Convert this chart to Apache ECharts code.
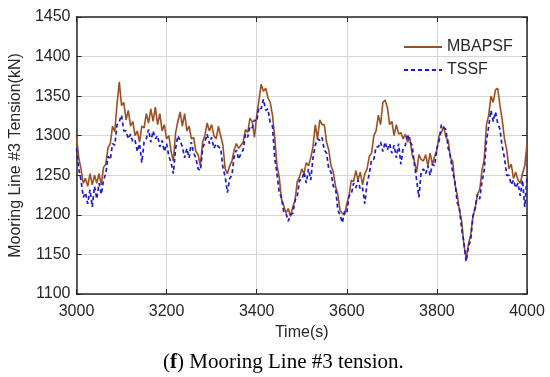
<!DOCTYPE html>
<html>
<head>
<meta charset="utf-8">
<script src="https://cdn.jsdelivr.net/npm/echarts@6/dist/echarts.min.js"></script>
<style>html,body{margin:0;padding:0;background:#fff;}#c{width:550px;height:377px;}</style>
</head>
<body>
<div id="c"></div>
<script>
// Sampling: t = 3000, 3005, ..., 4000 s
const tStart = 3000;
const tStep = 5;
const xTicks = [3000, 3200, 3400, 3600, 3800, 4000];
const yTicks = [1100, 1150, 1200, 1250, 1300, 1350, 1400, 1450];
const seriesNames = ['MBAPSF', 'TSSF'];

const mbapsf = [
1300,1272,1258,1240,1246,1236,1252,1238,1250,1240,
1252,1238,1260,1264,1285,1290,1312,1305,1340,1368,
1338,1342,1320,1332,1312,1318,1300,1306,1292,1312,
1310,1328,1316,1334,1318,1336,1314,1328,1306,1314,
1296,1300,1280,1268,1304,1318,1330,1312,1328,1306,
1312,1296,1298,1280,1276,1262,1292,1300,1316,1306,
1314,1300,1296,1312,1300,1288,1258,1252,1262,1268,
1282,1290,1284,1288,1292,1308,1304,1322,1318,1298,
1325,1345,1365,1356,1360,1348,1342,1326,1298,1262,
1248,1220,1212,1202,1208,1198,1210,1218,1242,1248,
1258,1252,1266,1262,1272,1286,1314,1296,1320,1314,
1314,1292,1282,1262,1254,1236,1226,1206,1202,1200,
1214,1224,1244,1242,1256,1244,1254,1238,1252,1258,
1274,1278,1300,1306,1326,1314,1342,1345,1336,1314,
1318,1300,1314,1302,1304,1296,1302,1292,1298,1276,
1268,1254,1276,1270,1268,1276,1262,1278,1264,1274,
1282,1300,1304,1312,1298,1294,1272,1268,1238,1226,
1206,1192,1162,1145,1163,1175,1198,1208,1226,1232,
1256,1270,1314,1326,1350,1342,1358,1360,1338,1320,
1296,1282,1258,1264,1246,1254,1244,1240,1252,1262,
1290];

const tssf = [
1284,1258,1244,1222,1228,1214,1232,1210,1236,1220,
1240,1226,1244,1252,1274,1270,1290,1288,1314,1318,
1326,1306,1306,1296,1302,1292,1294,1280,1290,1266,
1292,1296,1308,1292,1306,1296,1300,1286,1294,1280,
1290,1274,1266,1252,1284,1300,1294,1286,1272,1284,
1272,1292,1278,1272,1258,1256,1284,1292,1302,1290,
1298,1284,1290,1286,1284,1260,1248,1228,1246,1250,
1274,1282,1270,1278,1282,1302,1298,1312,1310,1320,
1318,1336,1334,1346,1332,1334,1316,1312,1272,1252,
1228,1222,1204,1202,1192,1200,1202,1218,1224,1244,
1244,1254,1240,1258,1244,1272,1288,1296,1294,1298,
1282,1278,1258,1254,1236,1234,1206,1200,1190,1204,
1202,1224,1226,1240,1234,1244,1232,1234,1214,1240,
1252,1270,1270,1286,1286,1292,1280,1292,1282,1290,
1278,1288,1272,1290,1264,1284,1288,1302,1292,1288,
1264,1244,1222,1254,1258,1252,1262,1250,1264,1262,
1284,1294,1314,1310,1308,1284,1274,1254,1242,1216,
1208,1182,1164,1141,1160,1168,1198,1210,1226,1220,
1242,1256,1294,1312,1332,1318,1330,1316,1308,1286,
1272,1250,1250,1238,1244,1234,1240,1224,1244,1210,
1248];

const pairs = arr => arr.map((v, i) => [tStart + i * tStep, v]);

const FONT = 'Liberation Sans, Arial, sans-serif';
const TXT = '#262626';

const chart = echarts.init(document.getElementById('c'), null, {renderer: 'canvas'});
const axisLine = {show: true, lineStyle: {color: '#262626', width: 1.5}};
const tick = {show: true, inside: true, length: 5, lineStyle: {color: '#262626'}};
chart.setOption({
  animation: false,
  backgroundColor: '#fff',
  grid: {left: 73, right: 23, top: 17, bottom: 83, containLabel: false},
  legend: {
    orient: 'vertical', left: 398, top: 34, itemWidth: 38, itemHeight: 14, itemGap: 7,
    itemStyle: {opacity: 0},
    textStyle: {fontFamily: FONT, fontSize: 16, color: TXT},
    data: seriesNames
  },
  xAxis: [{
    type: 'value', min: xTicks[0], max: xTicks[xTicks.length - 1], interval: xTicks[1] - xTicks[0],
    name: 'Time(s)', nameLocation: 'middle', nameGap: 31,
    nameTextStyle: {fontFamily: FONT, fontSize: 16, color: TXT},
    axisLine: axisLine, axisTick: tick,
    axisLabel: {fontFamily: FONT, fontSize: 16, color: TXT, margin: 10, formatter: v => String(v)},
    splitLine: {show: true, lineStyle: {color: '#d6d6d6', width: 1}}
  }, {
    type: 'value', position: 'top', min: xTicks[0], max: xTicks[xTicks.length - 1], interval: xTicks[1] - xTicks[0],
    axisLine: axisLine, axisTick: tick,
    axisLabel: {show: false}, splitLine: {show: false}
  }],
  yAxis: [{
    type: 'value', min: yTicks[0], max: yTicks[yTicks.length - 1], interval: yTicks[1] - yTicks[0],
    name: 'Mooring Line #3 Tension(kN)', nameLocation: 'middle', nameGap: 49,
    nameTextStyle: {fontFamily: FONT, fontSize: 16, color: TXT},
    axisLine: axisLine, axisTick: tick,
    axisLabel: {fontFamily: FONT, fontSize: 16, color: TXT, margin: 6, formatter: v => String(v)},
    splitLine: {show: true, lineStyle: {color: '#d6d6d6', width: 1}}
  }, {
    type: 'value', position: 'right', min: yTicks[0], max: yTicks[yTicks.length - 1], interval: yTicks[1] - yTicks[0],
    axisLine: axisLine, axisTick: tick,
    axisLabel: {show: false}, splitLine: {show: false}
  }],
  series: [{
    name: seriesNames[0], type: 'line', data: pairs(mbapsf), showSymbol: false, symbol: 'none',
    lineStyle: {color: '#9c4f22', width: 1.6}, itemStyle: {color: '#9c4f22'}
  }, {
    name: seriesNames[1], type: 'line', data: pairs(tssf), showSymbol: false, symbol: 'none',
    lineStyle: {color: '#1a1ad0', width: 1.7, type: [4, 3]}, itemStyle: {color: '#1a1ad0'}
  }],
  graphic: [{
    type: 'text', left: 163, top: 352,
    style: {
      rich: {
        b: {fontFamily: 'Liberation Serif, serif', fontSize: 21, fontWeight: 'bold', fill: '#000'},
        n: {fontFamily: 'Liberation Serif, serif', fontSize: 21, fill: '#000'}
      },
      text: '{n|(}{b|f}{n|) Mooring Line #3 tension.}'
    }
  }]
});
</script>
</body>
</html>
